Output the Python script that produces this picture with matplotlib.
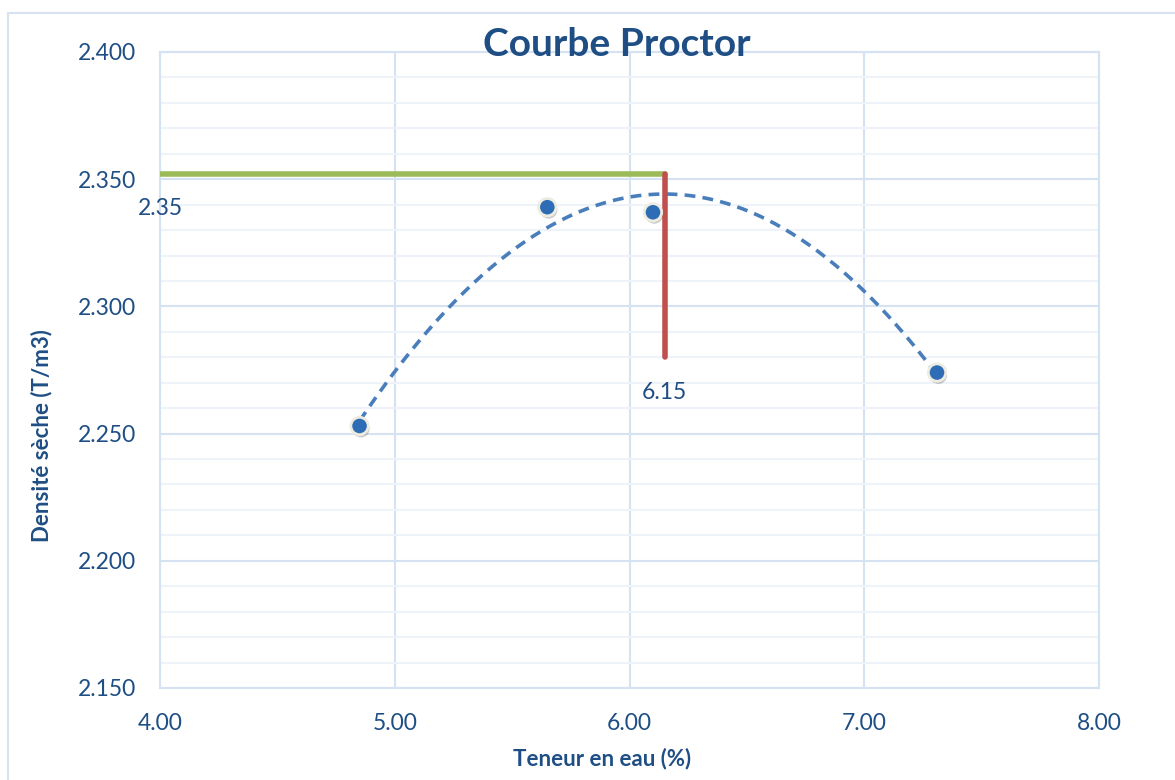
import numpy as np
import matplotlib.pyplot as plt
import matplotlib.patheffects as pe
from matplotlib.patches import Rectangle
from matplotlib.ticker import MultipleLocator

plt.rcParams['font.family'] = ['Lato', 'DejaVu Sans']

# points mesures
teneur_eau = [4.85, 5.65, 6.10, 7.31]
densite = [2.253, 2.339, 2.337, 2.274]

# optimum Proctor
w_opt = 6.15
d_opt = 2.352
d_bas = 2.28

txt = '#1F4E84'
grid_major = '#D5E2F2'
grid_minor = '#EEF3FA'

fig = plt.figure(figsize=(11.75, 7.8), dpi=100)
W, H = 1175, 780
ax = fig.add_axes([160 / W, 1 - 688 / H, 939 / W, 636 / H])

# cadre du graphique
fig.patches.append(Rectangle((8 / W, -0.1), 1.2, (H - 13) / H + 0.1,
                             transform=fig.transFigure, fill=False,
                             edgecolor='#D6E3F3', lw=1.5))

ax.set_xlim(4, 8)
ax.set_ylim(2.15, 2.40)
ax.xaxis.set_major_locator(MultipleLocator(1))
ax.yaxis.set_major_locator(MultipleLocator(0.05))
ax.yaxis.set_minor_locator(MultipleLocator(0.01))
ax.xaxis.set_major_formatter(lambda v, p: f'{v:.2f}')
ax.yaxis.set_major_formatter(lambda v, p: f'{v:.3f}')

ax.grid(which='minor', axis='y', color=grid_minor, lw=1.5, zorder=0)
ax.grid(which='major', axis='both', color=grid_major, lw=1.5, zorder=0)
ax.set_axisbelow(True)
for s in ax.spines.values():
    s.set_color(grid_major)
    s.set_linewidth(1.5)

ax.tick_params(which='both', length=0, labelsize=16.5, colors=txt)
ax.tick_params(axis='y', pad=17)
ax.tick_params(axis='x', pad=18)

shadow = [pe.SimplePatchShadow(offset=(1.5, -2.5), alpha=0.3, shadow_rgbFace='black'), pe.Normal()]
mk_shadow = [pe.SimplePatchShadow(offset=(1, -2), alpha=0.2, shadow_rgbFace='black'), pe.Normal()]

# courbe de tendance polynomiale ordre 2
coef = np.polyfit(teneur_eau, densite, 2)
xs = np.linspace(min(teneur_eau), max(teneur_eau), 200)
ax.plot(xs, np.polyval(coef, xs), color='#4A7EBB', lw=2.6, dashes=(3, 2), zorder=3)

# lignes de lecture
ax.plot([4, w_opt], [d_opt, d_opt], color='#9BBB59', lw=4, solid_capstyle='round',
        path_effects=shadow, zorder=4)
ax.plot([w_opt, w_opt], [d_opt, d_bas], color='#C0504D', lw=4, solid_capstyle='round',
        path_effects=shadow, zorder=4)
ax.annotate(f'{d_opt:.2f}', (4, d_opt), xytext=(0, -25), textcoords='offset points',
            ha='center', va='center', fontsize=16.5, color=txt, annotation_clip=False)
ax.annotate(f'{w_opt:.2f}', (w_opt, d_bas), xytext=(0, -25), textcoords='offset points',
            ha='center', va='center', fontsize=16.5, color=txt)

# points
ax.plot(teneur_eau, densite, 'o', ms=12.5, mfc='#2E6DB5', mec='#EEECE1', mew=2,
        path_effects=mk_shadow, zorder=5)

fig.text(617 / W, 1 - 45 / H, 'Courbe Proctor', ha='center', va='center',
         fontsize=28, fontweight='bold', color=txt)
fig.text(602 / W, 1 - 759 / H, 'Teneur en eau (%)', ha='center', va='center',
         fontsize=16, fontweight='bold', color=txt)
fig.text(42 / W, 1 - 436 / H, 'Densité sèche (T/m3)', ha='center', va='center',
         rotation=90, fontsize=16, fontweight='bold', color=txt)

fig.savefig('out.png', dpi=100)
